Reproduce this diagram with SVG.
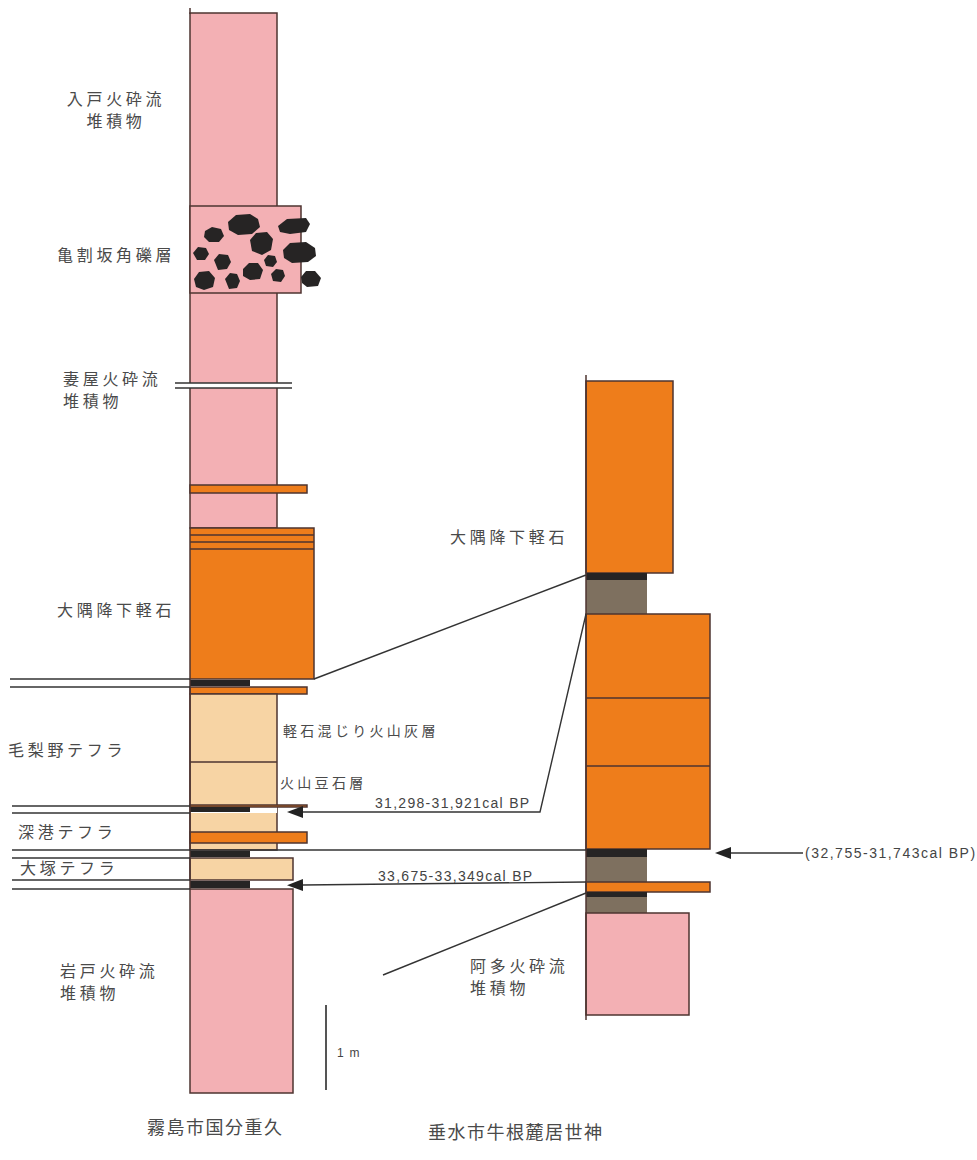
<svg xmlns="http://www.w3.org/2000/svg" width="977" height="1160" viewBox="0 0 977 1160">
<style>
  .pink{fill:#F3B0B4;stroke:#4e3430;stroke-width:1.5}
  .orange{fill:#EE7D1B;stroke:#4e3430;stroke-width:1.5}
  .tan{fill:#F7D4A4;stroke:#4e3430;stroke-width:1.5}
  .black{fill:#262424}
  .brown{fill:#7E705F}
  .clast{fill:#262424}
  .edge{stroke:#4e3430;stroke-width:1.5;fill:none}
  .ln{stroke:#333;stroke-width:1.4;fill:none}
  .lbl{font-family:"Noto Sans CJK JP","Noto Sans",sans-serif;fill:#4a4a4a;font-size:16px;letter-spacing:3.7px}
  .sm{font-size:14px;letter-spacing:3.3px}
  .site{font-size:18px;letter-spacing:1.5px}
  .date{font-family:"Liberation Sans",Arial,sans-serif;fill:#444;font-size:14px;letter-spacing:1.3px}
</style>
<defs>
  <!-- filled triangular arrowhead, tip extends beyond the line end -->
  <marker id="ah" viewBox="0 0 16 12" refX="0" refY="6" markerWidth="16" markerHeight="12" markerUnits="userSpaceOnUse" orient="auto">
    <path d="M0,0 L16,6 L0,12 Z" fill="#222"/>
  </marker>
</defs>
<rect width="977" height="1160" fill="#fff"/>

<!-- Kirishima section (left column) -->
<g id="col-left">
  <rect class="pink" x="190" y="13" width="87" height="515"/>
  <line class="edge" x1="190" y1="8" x2="190" y2="14"/>
  <!-- breccia -->
  <g id="breccia">
    <rect class="pink" x="190" y="206" width="111" height="87"/>
    <polygon class="clast" points="228,222 236,215 250,214 258,219 260,227 252,234 238,235 229,230"/>
    <polygon class="clast" points="205,231 212,227 221,229 224,236 219,242 209,242 204,237"/>
    <polygon class="clast" points="278,226 287,219 306,218 310,224 306,232 290,234 280,232"/>
    <polygon class="clast" points="250,240 256,233 267,232 273,239 271,250 262,255 252,251"/>
    <polygon class="clast" points="193,253 198,247 206,248 209,254 205,260 197,260"/>
    <polygon class="clast" points="214,260 219,254 228,255 231,262 227,269 218,270"/>
    <polygon class="clast" points="283,250 290,243 306,242 315,248 316,256 308,262 292,263 284,258"/>
    <polygon class="clast" points="264,260 268,255 275,256 277,262 273,267 266,266"/>
    <polygon class="clast" points="243,269 249,263 258,263 263,270 260,279 250,280 243,276"/>
    <polygon class="clast" points="194,279 199,272 209,271 215,278 213,287 204,290 196,287"/>
    <polygon class="clast" points="225,279 230,273 237,274 240,281 237,288 229,289"/>
    <polygon class="clast" points="271,274 276,269 283,270 285,276 281,282 273,281"/>
    <polygon class="clast" points="301,277 306,271 315,271 321,278 318,286 307,287 302,283"/>
  </g>
  <!-- Tsumaya gap -->
  <rect x="175" y="383" width="117" height="5" fill="#fff"/>
  <line class="ln" x1="175" y1="383" x2="292" y2="383"/>
  <line class="ln" x1="175" y1="388" x2="292" y2="388"/>
  <!-- thin pumice band -->
  <rect class="orange" x="190" y="485" width="117" height="8"/>
  <!-- Osumi pumice -->
  <rect class="orange" x="190" y="528" width="124" height="151"/>
  <line class="edge" x1="190" y1="535" x2="314" y2="535"/>
  <line class="edge" x1="190" y1="542" x2="314" y2="542"/>
  <line class="edge" x1="190" y1="549" x2="314" y2="549"/>
  <rect class="black" x="190" y="680" width="60" height="6"/>
  <rect class="orange" x="190" y="687" width="117" height="7"/>
  <!-- Kenashino tephra -->
  <rect class="tan" x="190" y="694" width="87" height="156"/>
  <line class="edge" x1="190" y1="762" x2="277" y2="762"/>
  <rect x="191" y="806" width="86" height="7" fill="#fff"/>
  <rect class="orange" x="190" y="805" width="117" height="2"/>
  <rect class="black" x="190" y="807" width="60" height="5"/>
  <rect class="orange" x="190" y="832" width="117" height="11"/>
  <rect x="191" y="851" width="100" height="7" fill="#fff"/>
  <rect class="black" x="190" y="851" width="60" height="6"/>
  <!-- Otsuka tephra -->
  <rect class="tan" x="190" y="858" width="103" height="22"/>
  <rect class="black" x="190" y="881" width="60" height="7"/>
  <!-- Iwato pyroclastic flow -->
  <rect class="pink" x="190" y="889" width="103" height="204"/>
  <line class="edge" x1="190" y1="679" x2="190" y2="889"/>
</g>

<!-- Ushine section (right column) -->
<g id="col-right">
  <rect class="orange" x="586" y="381" width="87" height="192"/>
  <rect class="black" x="586" y="573" width="61" height="7"/>
  <rect class="brown" x="586" y="580" width="61" height="34"/>
  <rect class="orange" x="586" y="614" width="124" height="235"/>
  <line class="edge" x1="586" y1="698" x2="710" y2="698"/>
  <line class="edge" x1="586" y1="766" x2="710" y2="766"/>
  <rect class="black" x="586" y="849" width="61" height="8"/>
  <rect class="brown" x="586" y="857" width="61" height="25"/>
  <rect class="orange" x="586" y="882" width="124" height="10"/>
  <rect class="black" x="586" y="892" width="61" height="5"/>
  <rect class="brown" x="586" y="897" width="61" height="16"/>
  <rect class="pink" x="586" y="913" width="103" height="102"/>
  <line class="edge" x1="586" y1="375" x2="586" y2="1020"/>
</g>

<!-- connectors -->
<g id="connectors">
  <line class="ln" x1="10" y1="679" x2="190" y2="679"/>
  <line class="ln" x1="10" y1="687" x2="190" y2="687"/>
  <line class="ln" x1="12" y1="806" x2="190" y2="806"/>
  <line class="ln" x1="12" y1="813" x2="190" y2="813"/>
  <line class="ln" x1="12" y1="850" x2="586" y2="850"/>
  <line class="ln" x1="12" y1="858" x2="190" y2="858"/>
  <line class="ln" x1="12" y1="880" x2="190" y2="880"/>
  <line class="ln" x1="12" y1="889" x2="190" y2="889"/>
  <line class="ln" x1="314" y1="679" x2="586" y2="575"/>
  <polyline class="ln" points="586,614 540,812 303,812" marker-end="url(#ah)"/>
  <line class="ln" x1="586" y1="882" x2="303" y2="885" marker-end="url(#ah)"/>
  <line class="ln" x1="383" y1="975" x2="586" y2="893"/>
  <line class="ln" x1="803" y1="853" x2="731" y2="853" marker-end="url(#ah)"/>
  <line x1="326" y1="1005" x2="326" y2="1090" stroke="#555" stroke-width="2"/>
</g>

<!-- labels -->
<g id="labels">
  <text class="lbl" x="116" y="105" text-anchor="middle">入戸火砕流</text>
  <text class="lbl" x="116" y="127" text-anchor="middle">堆積物</text>
  <text class="lbl" x="57" y="261">亀割坂角礫層</text>
  <text class="lbl" x="63" y="385">妻屋火砕流</text>
  <text class="lbl" x="63" y="407">堆積物</text>
  <text class="lbl" x="57" y="616">大隅降下軽石</text>
  <text class="lbl" x="8" y="756">毛梨野テフラ</text>
  <text class="lbl sm" x="283" y="736">軽石混じり火山灰層</text>
  <text class="lbl sm" x="280" y="788">火山豆石層</text>
  <text class="lbl" x="18" y="838">深港テフラ</text>
  <text class="lbl" x="20" y="874">大塚テフラ</text>
  <text class="lbl" x="60" y="977">岩戸火砕流</text>
  <text class="lbl" x="60" y="999">堆積物</text>
  <text class="lbl" x="450" y="543">大隅降下軽石</text>
  <text class="lbl" x="470" y="972">阿多火砕流</text>
  <text class="lbl" x="470" y="994">堆積物</text>
  <text class="date" x="375" y="808">31,298-31,921cal BP</text>
  <text class="date" x="378" y="881">33,675-33,349cal BP</text>
  <text class="date" x="805" y="858" style="letter-spacing:1.5px">(32,755-31,743cal BP)</text>
  <text class="date" x="337" y="1057" style="font-size:12px">1 m</text>
  <text class="lbl site" x="147" y="1134">霧島市国分重久</text>
  <text class="lbl site" x="428" y="1139">垂水市牛根麓居世神</text>
</g>
</svg>
